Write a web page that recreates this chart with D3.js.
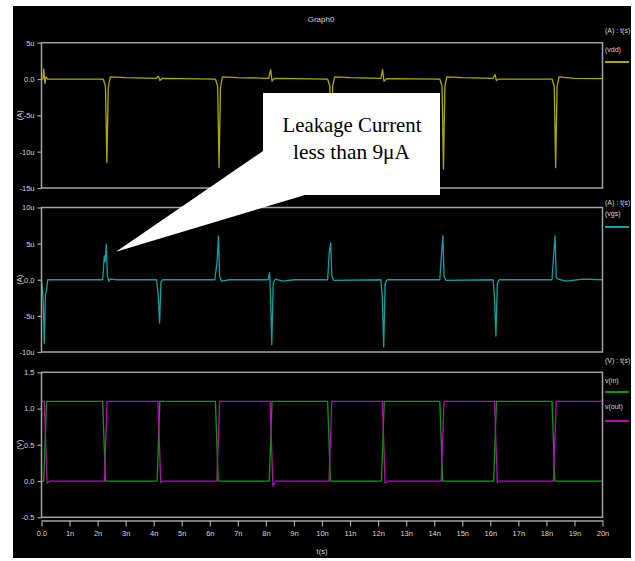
<!DOCTYPE html>
<html><head><meta charset="utf-8">
<script src="https://cdn.jsdelivr.net/npm/d3@7/dist/d3.min.js"></script>
<style>
body{margin:0;background:#fff;}
text{font-family:"Liberation Sans Narrow","Arial Narrow","Liberation Sans",sans-serif;}
</style></head><body>
<svg id="c" width="635" height="561"></svg>
<script>
// ---- data ----
const xTickValues = [0,1,2,3,4,5,6,7,8,9,10,11,12,13,14,15,16,17,18,19,20];
const xTickLabels = ["0.0","1n","2n","3n","4n","5n","6n","7n","8n","9n","10n","11n","12n","13n","14n","15n","16n","17n","18n","19n","20n"];

const p1TickValues = [5,0,-5,-10,-15];
const p1TickLabels = ["5u","0.0","-5u","-10u","-15u"];
const p2TickValues = [10,5,0,-5,-10];
const p2TickLabels = ["10u","5u","0.0","-5u","-10u"];
const p3TickValues = [1.5,1.0,0.5,0.0,-0.5];
const p3TickLabels = ["1.5","1.0","0.5","0.0","-0.5"];

// I(vdd) in uA vs time in ns
const vddData = [[0,0],[0.05,0],[0.08,1.4],[0.12,-0.6],[0.16,0.3],[0.22,0],[2.2,0],[2.28,-1],[2.33,-11.5],[2.38,-1.2],[2.45,0.3],[3.0,0.2],[4.1,0.1],[4.17,0.4],[4.22,-0.2],[4.3,0.1],[6.2,0],[6.28,-1],[6.33,-12.2],[6.38,-1.2],[6.45,0.3],[7.0,0.2],[8.1,0.1],[8.17,1.3],[8.22,-0.3],[8.3,0.1],[10.2,0],[10.28,-1],[10.33,-12.0],[10.38,-1],[10.45,0.3],[11.0,0.2],[12.1,0.1],[12.16,1.3],[12.21,-0.3],[12.3,0.05],[14.2,0],[14.28,-1],[14.33,-12.4],[14.38,-1],[14.45,0.3],[15.0,0.2],[16.1,0.1],[16.17,0.6],[16.22,-0.2],[16.3,0],[18.2,0],[18.28,-1],[18.33,-12.2],[18.38,-1],[18.45,0.3],[19.0,0.1],[20,0.05]];

// I(vgs) in uA vs time in ns
const vgsData = [[0,0],[0.06,-2.7],[0.1,-8.8],[0.14,-2.0],[0.18,-1.5],[0.22,0],[0.3,0],[2.18,0],[2.24,3.3],[2.27,2.5],[2.31,4.9],[2.35,0.5],[2.4,-0.2],[2.45,0.1],[2.7,0],[2.9,0],
 [4.1,0],[4.16,-2],[4.21,-6],[4.26,-0.3],[4.32,0],[6.18,0],[6.26,2.5],[6.31,6.1],[6.35,0.5],[6.42,-0.2],[6.7,0],
 [8.08,0],[8.13,1.0],[8.17,-2.7],[8.21,-9],[8.26,-0.5],[8.34,0.1],[8.6,-0.2],[9.0,0],
 [10.2,0],[10.26,3.8],[10.31,5.1],[10.35,0.5],[10.42,-0.1],[12.1,0],[12.15,-2.5],[12.2,-9.3],[12.25,-0.5],[12.32,0],
 [14.2,0],[14.26,3.5],[14.31,6.1],[14.35,0.5],[14.42,-0.1],[16.1,0],[16.15,-2.5],[16.2,-7.8],[16.25,-0.5],[16.32,0],
 [18.2,0],[18.26,3.5],[18.31,6.1],[18.35,0.3],[18.42,0.1],[18.7,-0.2],[19.3,0.1],[20,0]];

// v(in), v(out) in V vs time in ns
const vinData = [[0,0],[0.08,0],[0.18,1.1],[2.18,1.1],[2.28,0],[4.12,0],[4.22,1.1],[6.2,1.1],[6.3,0],[8.12,0],[8.22,1.1],[10.2,1.1],[10.3,0],[12.12,0],[12.22,1.1],[14.2,1.1],[14.3,0],[16.12,0],[16.22,1.1],[18.2,1.1],[18.3,0],[20,0]];
const voutData = [[0,1.1],[0.1,1.1],[0.2,-0.03],[0.3,0],[2.24,0],[2.34,1.1],[4.15,1.1],[4.25,-0.02],[4.35,0],[6.25,0],[6.35,1.1],[8.15,1.1],[8.25,-0.07],[8.35,0],[10.25,0],[10.35,1.1],[12.15,1.1],[12.25,-0.03],[12.35,0],[14.25,0],[14.35,1.1],[16.15,1.1],[16.25,-0.02],[16.35,0],[18.25,0],[18.35,1.1],[20,1.1]];

const title = "Graph0";
const calloutLines = ["Leakage Current","less than 9\u03bcA"];

// ---- drawing ----
const svg = d3.select("#c");
const gray = "#a4a4a4", txt = "#d8d8d8";
svg.append("rect").attr("x",13).attr("y",6).attr("width",618).attr("height",552).attr("fill","#000");

const x = d3.scaleLinear().domain([0,20]).range([41.5,602.5]);

svg.append("text").attr("x",321).attr("y",22).attr("text-anchor","middle").attr("font-size",8).attr("fill",txt).text(title);

const panels = [
 {top:42.7,bot:188,dom:[-15,5],tv:p1TickValues,tl:p1TickLabels,unit:"(A)",hdr:"(A) : t(s)",hdrY:33,
  series:[{name:"(vdd)",data:vddData,color:"#b0a800",nameY:52,lineY:62}]},
 {top:207.5,bot:352,dom:[-10,10],tv:p2TickValues,tl:p2TickLabels,unit:"(A)",hdr:"(A) : t(s)",hdrY:205,
  series:[{name:"(vgs)",data:vgsData,color:"#12a0a0",nameY:216,lineY:227}]},
 {top:372.3,bot:517.3,dom:[-0.5,1.5],tv:p3TickValues,tl:p3TickLabels,unit:"(V)",hdr:"(V) : t(s)",hdrY:363,
  series:[{name:"v(in)",data:vinData,color:"#0e980e",nameY:383,lineY:392},
          {name:"v(out)",data:voutData,color:"#b010b0",nameY:409,lineY:421}]}
];

panels.forEach(p=>{
  const y = d3.scaleLinear().domain(p.dom).range([p.bot,p.top]);
  const ax = svg.append("g").attr("transform","translate(41.5,0)")
    .call(d3.axisLeft(y).tickValues(p.tv).tickSize(4).tickFormat((d,i)=>p.tl[i]));
  ax.select(".domain").remove();
  ax.selectAll("line").attr("stroke",gray).attr("stroke-width",1.2);
  ax.selectAll("text").attr("fill",txt).attr("font-size",7.5).attr("font-family",null);
  svg.append("text").attr("transform",`translate(22,${(p.top+p.bot)/2}) rotate(-90)`)
    .attr("text-anchor","middle").attr("font-size",7.5).attr("fill",txt).text(p.unit);
  svg.append("text").attr("x",605).attr("y",p.hdrY).attr("font-size",7).attr("fill",txt).text(p.hdr);
  const line = d3.line().x(d=>x(d[0])).y(d=>y(d[1]));
  p.series.forEach(s=>{
    svg.append("path").datum(s.data).attr("d",line).attr("fill","none")
      .attr("stroke",s.color).attr("stroke-width",1.3).attr("stroke-linejoin","round");
    svg.append("text").attr("x",605).attr("y",s.nameY).attr("font-size",7).attr("fill",txt).text(s.name);
    svg.append("line").attr("x1",605).attr("x2",629).attr("y1",s.lineY).attr("y2",s.lineY)
      .attr("stroke",s.color).attr("stroke-width",2);
  });
  svg.append("rect").attr("x",x(0)).attr("y",p.top).attr("width",x(20)-x(0)).attr("height",p.bot-p.top)
    .attr("fill","none").attr("stroke",gray).attr("stroke-width",1.5);
});

// x axis
const xa = svg.append("g").attr("transform","translate(0,520.5)")
  .call(d3.axisBottom(x).tickValues(xTickValues).tickSize(6).tickSizeOuter(0).tickFormat((d,i)=>xTickLabels[i]));
xa.select(".domain").attr("stroke",gray).attr("stroke-width",1.5);
xa.selectAll("line").attr("stroke",gray).attr("stroke-width",1.2);
xa.selectAll("text").attr("fill",txt).attr("font-size",7.5).attr("font-family",null).attr("dy","0.9em");
svg.append("text").attr("x",x(10)).attr("y",554).attr("text-anchor","middle").attr("font-size",7.5).attr("fill",txt).text("t(s)");

// callout
svg.append("path").attr("d","M116,251.7 L263,151 L305,195 Z").attr("fill","#fff");
svg.append("rect").attr("x",263).attr("y",93).attr("width",177).attr("height",102).attr("fill","#fff");
const cw = [139,117], cx = [282.5,293], cy = [131.7,158.5];
calloutLines.forEach((t,i)=>{
  svg.append("text").attr("x",cx[i]).attr("y",cy[i])
    .style("font-family","'Liberation Serif','Times New Roman',serif")
    .attr("font-size",21).attr("fill","#000").attr("textLength",cw[i]).attr("lengthAdjust","spacingAndGlyphs").text(t);
});
</script>
</body></html>
